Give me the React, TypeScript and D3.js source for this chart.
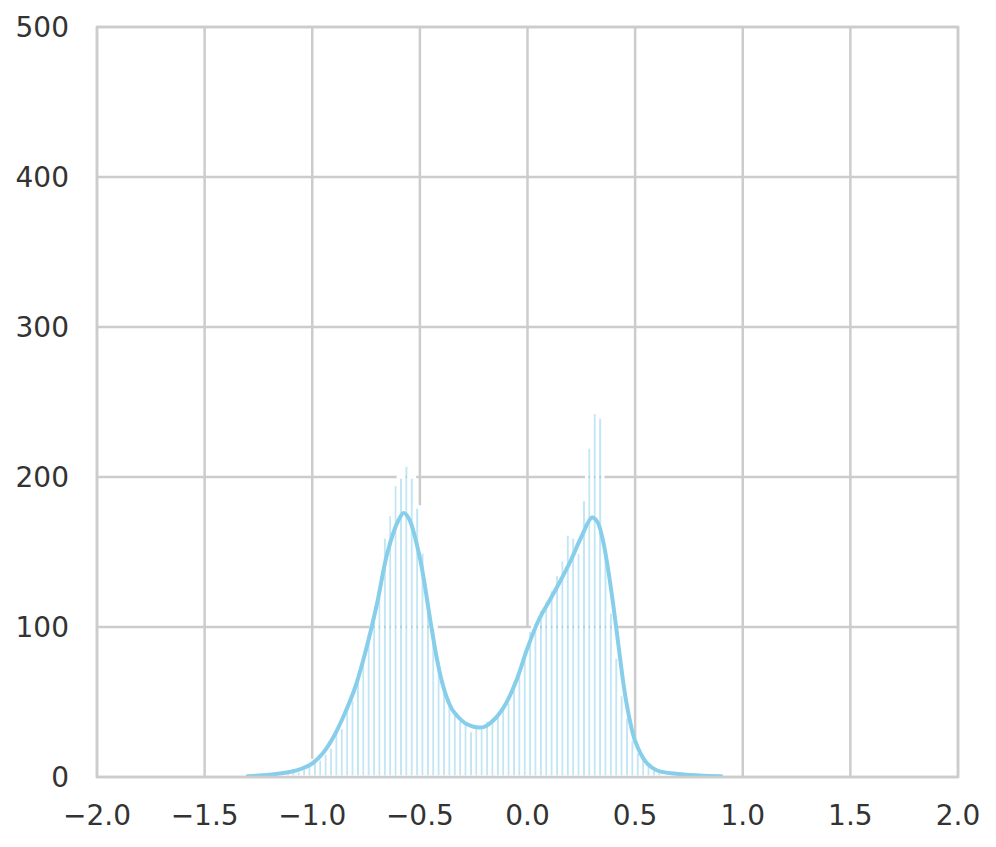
import React from "react";
import * as d3 from "d3";

// ---- data ----
const binStart = -1.3;
const binWidth = 0.025;
const binCounts = [
  0, 1, 0, 2, 1, 3, 2, 4, 5, 4,
  7, 9, 11, 12, 16, 20, 30, 33, 47, 52,
  68, 80, 95, 110, 125, 160, 175, 195, 200, 208,
  200, 180, 150, 118, 100, 78, 60, 50, 45, 38,
  36, 31, 35, 33, 38, 40, 44, 48, 50, 62,
  72, 85, 98, 103, 112, 118, 125, 135, 145, 162,
  160, 150, 185, 220, 243, 240, 150, 110, 80, 55,
  40, 25, 17, 12, 8, 5, 4, 2, 2, 1,
  1, 1, 0, 1, 0, 0, 1, 0,
];

const kdeX = [
  -1.3, -1.2, -1.1, -1.05, -1.0, -0.95, -0.9, -0.85, -0.8, -0.75,
  -0.7, -0.65, -0.6, -0.575, -0.55, -0.5, -0.45, -0.425, -0.4, -0.375,
  -0.35, -0.325, -0.3, -0.275, -0.25, -0.225, -0.2, -0.15, -0.1, -0.05,
  0.0, 0.05, 0.1, 0.15, 0.2, 0.25, 0.3, 0.325, 0.35, 0.375,
  0.4, 0.425, 0.45, 0.475, 0.5, 0.55, 0.6, 0.7, 0.8, 0.9,
];
const kdeY = [
  0.5, 1.5, 3.5, 5.5, 9, 16, 27, 42, 60, 85,
  115, 150, 171, 176, 172, 146, 103, 82, 65, 53,
  45, 40.5, 37, 34.8, 33.5, 33, 33.5, 39, 49, 65,
  86, 104, 117, 130, 144, 160, 173, 170, 158, 138,
  113, 85, 58, 38, 24, 10, 4.5, 2, 1, 0.5,
];

const xTicks = [-2.0, -1.5, -1.0, -0.5, 0.0, 0.5, 1.0, 1.5, 2.0];
const yTicks = [0, 100, 200, 300, 400, 500];

const W = 996;
const H = 847;
const M = { left: 97, right: 38, top: 27, bottom: 70 };

export default function App() {
  const x = d3.scaleLinear().domain([-2, 2]).range([M.left, W - M.right]);
  const y = d3.scaleLinear().domain([0, 500]).range([H - M.bottom, M.top]);

  const bins = binCounts.map((c, i) => ({
    x0: binStart + i * binWidth,
    x1: binStart + (i + 1) * binWidth,
    c,
  }));

  const kdePts: [number, number][] = kdeX.map((v, i) => [v, kdeY[i]]);
  const line = d3
    .line<[number, number]>()
    .x((d) => x(d[0]))
    .y((d) => y(d[1]))
    .curve(d3.curveCatmullRom.alpha(0.5));

  const fmt = (v: number) => (v < 0 ? "\u2212" + Math.abs(v).toFixed(1) : v.toFixed(1));
  const grid = "#cccccc";
  const font = "DejaVu Sans";

  return (
    <svg
      width={W}
      height={H}
      style={{ position: "absolute", left: 0, top: 0, background: "#fff" }}
    >
      <defs>
        <clipPath id="plot">
          <rect x={M.left} y={M.top} width={W - M.left - M.right} height={H - M.top - M.bottom} />
        </clipPath>
      </defs>
      {/* grid */}
      {xTicks.map((t) => (
        <line key={"gx" + t} x1={x(t)} x2={x(t)} y1={y(0)} y2={y(500)} stroke={grid} strokeWidth={2.5} />
      ))}
      {yTicks.map((t) => (
        <line key={"gy" + t} x1={x(-2)} x2={x(2)} y1={y(t)} y2={y(t)} stroke={grid} strokeWidth={2.5} />
      ))}
      {/* histogram */}
      <g clipPath="url(#plot)">
        {bins.map((b, i) =>
          b.c > 0 ? (
            <rect
              key={i}
              x={x(b.x0)}
              width={x(b.x1) - x(b.x0)}
              y={y(b.c)}
              height={y(0) - y(b.c)}
              fill="#87ceeb"
              fillOpacity={0.5}
              stroke="#ffffff"
              strokeWidth={3.4}
            />
          ) : null
        )}
        <path d={line(kdePts) || ""} fill="none" stroke="#87ceeb" strokeWidth={4} strokeLinejoin="round" strokeLinecap="round" />
      </g>
      {/* frame */}
      <rect
        x={x(-2)}
        y={y(500)}
        width={x(2) - x(-2)}
        height={y(0) - y(500)}
        fill="none"
        stroke={grid}
        strokeWidth={2.5}
      />
      {/* tick labels */}
      {yTicks.map((t) => (
        <text
          key={"ty" + t}
          x={x(-2) - 28}
          y={y(t)}
          dy="0.36em"
          textAnchor="end"
          fontFamily={font}
          fontSize={28}
          fill="#333333"
        >
          {t}
        </text>
      ))}
      {xTicks.map((t) => (
        <text
          key={"tx" + t}
          x={x(t)}
          y={825}
          textAnchor="middle"
          fontFamily={font}
          fontSize={28}
          fill="#333333"
        >
          {fmt(t)}
        </text>
      ))}
    </svg>
  );
}
